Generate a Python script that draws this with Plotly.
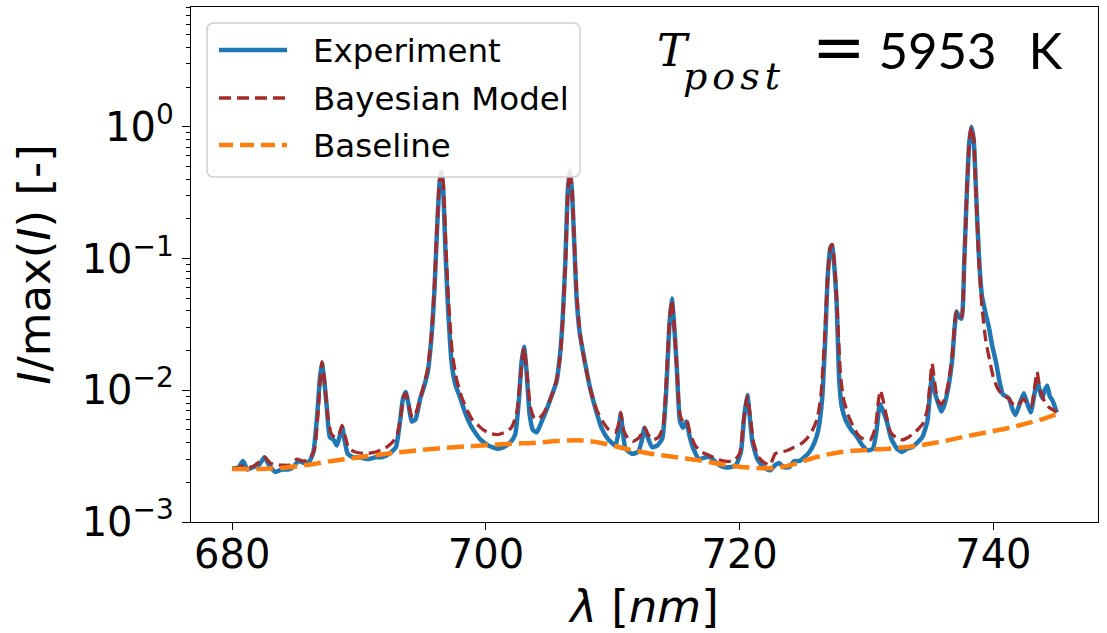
import plotly.graph_objects as go

# ---------------- data ----------------
wl_exp = [680.0, 680.5, 680.85, 681.2, 681.6, 682.1, 682.55, 682.9, 683.4, 683.9, 684.4, 684.8,
          685.2, 685.7, 686.1, 686.4, 686.7, 686.9, 687.07, 687.25, 687.45, 687.7, 688.0, 688.25,
          688.5, 688.68, 688.85, 689.1, 689.5, 690.0, 690.7, 691.3, 691.8, 692.4, 692.9, 693.2,
          693.45, 693.68, 693.9, 694.15, 694.45, 694.8, 695.1, 695.4, 695.7, 695.95, 696.15, 696.35,
          696.48, 696.62, 696.8, 697.0, 697.3, 697.6, 697.95, 698.4, 698.8, 699.2, 699.6, 700.2,
          700.9, 701.4, 701.9, 702.3, 702.6, 702.8, 703.0, 703.2, 703.45, 703.7, 704.0, 704.4,
          704.8, 705.2, 705.55, 705.85, 706.05, 706.25, 706.45, 706.62, 706.78, 706.95, 707.15, 707.4,
          707.7, 708.2, 708.7, 709.1, 709.6, 710.2, 710.45, 710.62, 710.8, 711.0, 711.5, 712.0,
          712.3, 712.5, 712.75, 713.1, 713.5, 713.9, 714.2, 714.45, 714.65, 714.85, 715.05, 715.3,
          715.55, 715.8, 716.05, 716.35, 716.8, 717.3, 717.7, 718.2, 718.7, 719.2, 719.7, 720.1,
          720.35, 720.6, 720.8, 721.0, 721.4, 721.9, 722.4, 722.8, 723.1, 723.5, 723.9, 724.3,
          724.7, 725.1, 725.5, 725.9, 726.2, 726.5, 726.75, 726.95, 727.15, 727.28, 727.45, 727.65,
          727.85, 728.05, 728.4, 728.8, 729.2, 729.6, 730.1, 730.5, 730.8, 731.05, 731.3, 731.6,
          731.95, 732.4, 732.8, 733.2, 733.6, 734.0, 734.4, 734.8, 735.0, 735.17, 735.4, 735.65,
          735.9, 736.15, 736.45, 736.75, 736.95, 737.1, 737.3, 737.5, 737.7, 737.9, 738.1, 738.27,
          738.45, 738.65, 738.85, 739.1, 739.4, 739.65, 739.9, 740.2, 740.5, 740.75, 741.0, 741.25,
          741.5, 741.75, 742.1, 742.4, 742.7, 742.95, 743.25, 743.45, 743.65, 743.85, 744.05, 744.25,
          744.45, 744.65, 744.85, 745.0]
I_exp = [0.00255, 0.0026, 0.0029, 0.0025, 0.0026, 0.0027, 0.0031, 0.0027, 0.0024, 0.0025, 0.0025, 0.0026,
         0.0029, 0.0028, 0.0029, 0.0034, 0.0065, 0.012, 0.016, 0.012, 0.0075, 0.0044, 0.0042, 0.0038,
         0.0046, 0.0052, 0.0042, 0.0033, 0.0031, 0.0031, 0.0030, 0.0031, 0.0031, 0.0033, 0.0037, 0.0055,
         0.0085, 0.0097, 0.0078, 0.0058, 0.0060, 0.0085, 0.0105, 0.0135, 0.025, 0.06, 0.17, 0.38,
         0.455, 0.35, 0.12, 0.045, 0.016, 0.011, 0.0089, 0.0066, 0.0054, 0.0047, 0.0042, 0.0038,
         0.0036, 0.0037, 0.0040, 0.0046, 0.0085, 0.016, 0.0214, 0.014, 0.0065, 0.0050, 0.0048, 0.0058,
         0.0072, 0.0092, 0.0115, 0.019, 0.035, 0.09, 0.32, 0.47, 0.33, 0.14, 0.05, 0.027,
         0.0185, 0.0105, 0.0069, 0.0052, 0.0043, 0.0038, 0.0048, 0.0066, 0.0048, 0.0036, 0.0033, 0.0034,
         0.0042, 0.0052, 0.0044, 0.0037, 0.0038, 0.0043, 0.0095, 0.03, 0.0498, 0.03, 0.0145, 0.0058,
         0.0052, 0.0058, 0.0045, 0.0036, 0.0030, 0.0031, 0.0031, 0.0028, 0.00262, 0.0026, 0.0027, 0.0034,
         0.0062, 0.0092, 0.0063, 0.0041, 0.0030, 0.0026, 0.00247, 0.0027, 0.0028, 0.0026, 0.0026, 0.0029,
         0.0029, 0.0031, 0.0034, 0.0040, 0.0050, 0.0085, 0.025, 0.075, 0.12, 0.126, 0.09, 0.045,
         0.012, 0.0075, 0.0058, 0.0050, 0.0045, 0.0039, 0.0035, 0.0036, 0.0050, 0.0079, 0.0070, 0.0058,
         0.0043, 0.0036, 0.0034, 0.0036, 0.0037, 0.0040, 0.0044, 0.0058, 0.0095, 0.0126, 0.0095, 0.0080,
         0.0069, 0.0078, 0.0105, 0.0169, 0.030, 0.0394, 0.036, 0.035, 0.09, 0.30, 0.75, 1.0,
         0.80, 0.30, 0.11, 0.052, 0.038, 0.030, 0.022, 0.0165, 0.0115, 0.0093, 0.0090, 0.0086,
         0.0072, 0.0065, 0.0080, 0.0095, 0.0078, 0.0068, 0.0095, 0.0118, 0.0100, 0.0087, 0.0100, 0.0108,
         0.0090, 0.0084, 0.0075, 0.0068]

wl_model = [680.0, 680.5, 681.0, 681.5, 682.0, 682.55, 683.0, 683.5, 684.0, 684.5, 685.1, 685.6,
            686.1, 686.5, 686.8, 687.07, 687.3, 687.55, 687.8, 688.1, 688.4, 688.65, 688.9, 689.2,
            689.7, 690.5, 691.3, 692.0, 692.6, 693.0, 693.3, 693.55, 693.7, 693.95, 694.2, 694.5,
            694.8, 695.1, 695.4, 695.7, 695.95, 696.15, 696.35, 696.5, 696.65, 696.85, 697.05, 697.35,
            697.7, 698.1, 698.6, 699.0, 699.4, 699.8, 700.3, 700.9, 701.5, 702.0, 702.4, 702.7,
            703.0, 703.25, 703.5, 703.8, 704.1, 704.5, 704.9, 705.3, 705.65, 705.9, 706.1, 706.3,
            706.48, 706.62, 706.78, 706.95, 707.15, 707.4, 707.75, 708.2, 708.7, 709.2, 709.7, 710.2,
            710.45, 710.62, 710.85, 711.2, 711.6, 712.0, 712.3, 712.5, 712.8, 713.2, 713.6, 713.95,
            714.2, 714.45, 714.65, 714.85, 715.05, 715.3, 715.55, 715.8, 716.1, 716.5, 717.0, 717.6,
            718.2, 718.8, 719.5, 720.0, 720.3, 720.6, 720.85, 721.1, 721.5, 722.0, 722.4, 722.8,
            723.3, 723.8, 724.3, 724.8, 725.3, 725.7, 726.1, 726.4, 726.7, 726.95, 727.15, 727.3,
            727.5, 727.7, 727.95, 728.2, 728.6, 729.0, 729.4, 729.9, 730.3, 730.7, 730.95, 731.1,
            731.3, 731.55, 731.9, 732.3, 732.8, 733.3, 733.7, 734.1, 734.5, 734.8, 735.0, 735.17,
            735.35, 735.6, 735.9, 736.2, 736.5, 736.75, 736.95, 737.1, 737.3, 737.5, 737.7, 737.9,
            738.1, 738.27, 738.45, 738.65, 738.85, 739.1, 739.4, 739.7, 740.0, 740.3, 740.6, 740.9,
            741.2, 741.5, 741.8, 742.1, 742.4, 742.7, 743.0, 743.25, 743.45, 743.65, 743.9, 744.1,
            744.4, 744.7, 745.0]
I_model = [0.0025, 0.0026, 0.0027, 0.0026, 0.0028, 0.0031, 0.0028, 0.0027, 0.0027, 0.0027, 0.0030, 0.0029,
           0.0030, 0.0036, 0.0075, 0.0165, 0.011, 0.0062, 0.0047, 0.0044, 0.0046, 0.0054, 0.0045, 0.0036,
           0.0034, 0.0033, 0.0034, 0.0036, 0.0040, 0.0046, 0.0065, 0.0092, 0.0094, 0.0074, 0.0062, 0.0068,
           0.0085, 0.011, 0.0145, 0.026, 0.065, 0.18, 0.40, 0.46, 0.36, 0.12, 0.048, 0.019,
           0.012, 0.0088, 0.0068, 0.0058, 0.0054, 0.0050, 0.0047, 0.0046, 0.0048, 0.0052, 0.0065, 0.012,
           0.021, 0.013, 0.0075, 0.0062, 0.0060, 0.0066, 0.0078, 0.0098, 0.013, 0.02, 0.04, 0.11,
           0.34, 0.46, 0.34, 0.15, 0.055, 0.028, 0.017, 0.0105, 0.0072, 0.0058, 0.0050, 0.0048,
           0.0055, 0.0068, 0.0050, 0.0043, 0.0041, 0.0043, 0.0047, 0.0052, 0.0046, 0.0042, 0.0044, 0.0052,
           0.011, 0.032, 0.048, 0.030, 0.015, 0.0065, 0.0058, 0.0060, 0.0047, 0.0038, 0.0034, 0.0032,
           0.0030, 0.0029, 0.0029, 0.0033, 0.0058, 0.0090, 0.0062, 0.0040, 0.0031, 0.0028, 0.0027, 0.0033,
           0.0034, 0.0035, 0.0037, 0.0039, 0.0043, 0.0049, 0.0060, 0.0090, 0.025, 0.075, 0.12, 0.128,
           0.085, 0.040, 0.013, 0.0085, 0.0063, 0.0052, 0.0045, 0.0042, 0.0042, 0.0052, 0.0085, 0.0100,
           0.0085, 0.0065, 0.0048, 0.0044, 0.0042, 0.0044, 0.0047, 0.0051, 0.0057, 0.0072, 0.011, 0.016,
           0.012, 0.0085, 0.0078, 0.0088, 0.012, 0.018, 0.032, 0.040, 0.037, 0.036, 0.085, 0.30,
           0.78, 1.0, 0.82, 0.28, 0.10, 0.043, 0.024, 0.017, 0.0125, 0.0105, 0.0095, 0.0090,
           0.0087, 0.0079, 0.0075, 0.0080, 0.0086, 0.0078, 0.0076, 0.0105, 0.0138, 0.0105, 0.0088, 0.0080,
           0.0074, 0.0071, 0.0068]

wl_base = [680, 682, 684, 686, 688, 690, 692, 694, 696, 698, 700, 702, 704, 706, 707.5, 709,
           711, 713, 715, 717, 719, 721, 722.5, 724, 726, 728, 730, 732, 734, 736, 738, 740,
           742, 744, 745]
I_base = [0.00252, 0.00253, 0.00258, 0.00272, 0.00292, 0.0031, 0.00328, 0.00345, 0.0036, 0.00372,
          0.00382, 0.00392, 0.0040, 0.00414, 0.00416, 0.0040, 0.0036, 0.0033, 0.0031, 0.00292,
          0.0027, 0.00258, 0.00256, 0.0027, 0.0031, 0.0034, 0.00352, 0.00362, 0.0038, 0.0041,
          0.0045, 0.0049, 0.0054, 0.0061, 0.0066]

series_names = ["Experiment", "Bayesian Model", "Baseline"]
x_ticks = [680, 700, 720, 740]
y_ticks = [1e-3, 1e-2, 1e-1, 1]
y_ticktext = ["10<sup>\u22123</sup>", "10<sup>\u22122</sup>", "10<sup>\u22121</sup>", "10<sup>0</sup>"]
T_post = 5953

# ---------------- styling ----------------
C_EXP = "#1f77b4"
C_MOD = "#a52a2a"
C_BASE = "#ff7f0e"
FONT = "DejaVu Sans"

W, H = 1107, 633
ML, MR, MT, MB = 191, 9, 7, 111
PW, PH = W - ML - MR, H - MT - MB

fig = go.Figure()
fig.add_trace(go.Scatter(x=wl_exp, y=I_exp, mode="lines", name=series_names[0],
                         line=dict(color=C_EXP, width=4.5, shape="spline", smoothing=0.5),
                         showlegend=False))
fig.add_trace(go.Scatter(x=wl_model, y=I_model, mode="lines", name=series_names[1],
                         line=dict(color=C_MOD, width=3.3, dash="12px,6px", shape="spline", smoothing=0.5),
                         showlegend=False))
fig.add_trace(go.Scatter(x=wl_base, y=I_base, mode="lines", name=series_names[2],
                         line=dict(color=C_BASE, width=4.5, dash="17px,7px", shape="spline"),
                         showlegend=False))

minor_vals = []
for e in [-3, -2, -1, 0]:
    for m in range(2, 10):
        v = m * 10 ** e
        if v < 8.1:
            minor_vals.append(v)

fig.update_layout(
    width=W, height=H,
    margin=dict(l=ML, r=MR, t=MT, b=MB),
    paper_bgcolor="white", plot_bgcolor="white",
    font=dict(family=FONT, color="black"),
    showlegend=False,
    xaxis=dict(
        range=[676.75, 748.25], tickmode="array", tickvals=x_ticks,
        ticks="outside", ticklen=7, tickwidth=1.3, tickcolor="black",
        showline=True, linecolor="black", linewidth=1.3, mirror=True,
        showgrid=False, zeroline=False,
        tickfont=dict(family=FONT, size=40, color="black"),
        ticklabelstandoff=-10,
        title=dict(text="<i>\u03bb</i> [<i>nm</i>]", font=dict(family=FONT, size=45), standoff=22),
        automargin=False,
    ),
    yaxis=dict(
        type="log", range=[-3, 0.909], tickmode="array", tickvals=y_ticks, ticktext=y_ticktext,
        ticks="outside", ticklen=8, tickwidth=1.3, tickcolor="black",
        minor=dict(tickmode="array", tickvals=minor_vals, ticks="outside", ticklen=4,
                   tickwidth=1, tickcolor="black", showgrid=False),
        showline=True, linecolor="black", linewidth=1.3, mirror=True,
        showgrid=False, zeroline=False,
        tickfont=dict(family=FONT, size=40, color="black"),
        title=dict(text="<i>I</i>/max(<i>I</i>) [-]", font=dict(family=FONT, size=45), standoff=16),
        automargin=False,
    ),
)

# ---------------- custom matplotlib-like legend ----------------
def px2paper_x(px):
    return (px - ML) / PW

def px2paper_y(py):
    return (H - MB - py) / PH

x0, x1 = px2paper_x(207), px2paper_x(580)
y0, y1 = px2paper_y(177), px2paper_y(23)
rx, ry = 7 / PW, 7 / PH
path = (f"M {x0+rx},{y1} L {x1-rx},{y1} Q {x1},{y1} {x1},{y1-ry} "
        f"L {x1},{y0+ry} Q {x1},{y0} {x1-rx},{y0} L {x0+rx},{y0} Q {x0},{y0} {x0},{y0+ry} "
        f"L {x0},{y1-ry} Q {x0},{y1} {x0+rx},{y1} Z")
fig.add_shape(type="path", path=path, xref="paper", yref="paper",
              line=dict(color="#d0d0d0", width=1.5), fillcolor="rgba(255,255,255,0.85)", layer="above")

legend_rows = [50, 98, 145]
legend_styles = [dict(color=C_EXP, width=4.5),
                 dict(color=C_MOD, width=3.3, dash="12px,6px"),
                 dict(color=C_BASE, width=4.5, dash="14px,7px")]
for name, row, sty in zip(series_names, legend_rows, legend_styles):
    fig.add_shape(type="line", xref="paper", yref="paper",
                  x0=px2paper_x(219), x1=px2paper_x(287), y0=px2paper_y(row), y1=px2paper_y(row),
                  line=sty, layer="above")
    fig.add_annotation(x=px2paper_x(311), y=px2paper_y(row + 1), xref="paper", yref="paper",
                       text=name, showarrow=False, xanchor="left", yanchor="middle",
                       font=dict(family=FONT, size=32.5, color="black"))

# ---------------- temperature annotation ----------------
SERIF_I = "font-family:'DejaVu Serif';font-style:italic"
# T
fig.add_annotation(x=px2paper_x(655), y=px2paper_y(50), xref="paper", yref="paper",
                   xanchor="left", yanchor="middle", showarrow=False,
                   text=f"<span style=\"{SERIF_I}\">T</span>",
                   font=dict(family="DejaVu Serif", size=45, color="black"))
# subscript "post"
fig.add_annotation(x=px2paper_x(681), y=px2paper_y(76), xref="paper", yref="paper",
                   xanchor="left", yanchor="middle", showarrow=False,
                   text=f"<span style=\"{SERIF_I};letter-spacing:5px\">post</span>",
                   font=dict(family="DejaVu Serif", size=38, color="black"))
# "= 5953 K"
fig.add_annotation(x=px2paper_x(1065), y=px2paper_y(47), xref="paper", yref="paper",
                   xanchor="right", yanchor="middle", showarrow=False,
                   text=(f"<span style=\"font-family:'DejaVu Sans';font-size:64px\">=</span>"
                         f"\u2005{T_post}\u2002\u2009K"),
                   font=dict(family="Lato", size=51, color="black"))

fig.write_html("out.html", config={"displayModeBar": False},
               post_script="document.body.style.margin='0px';")
